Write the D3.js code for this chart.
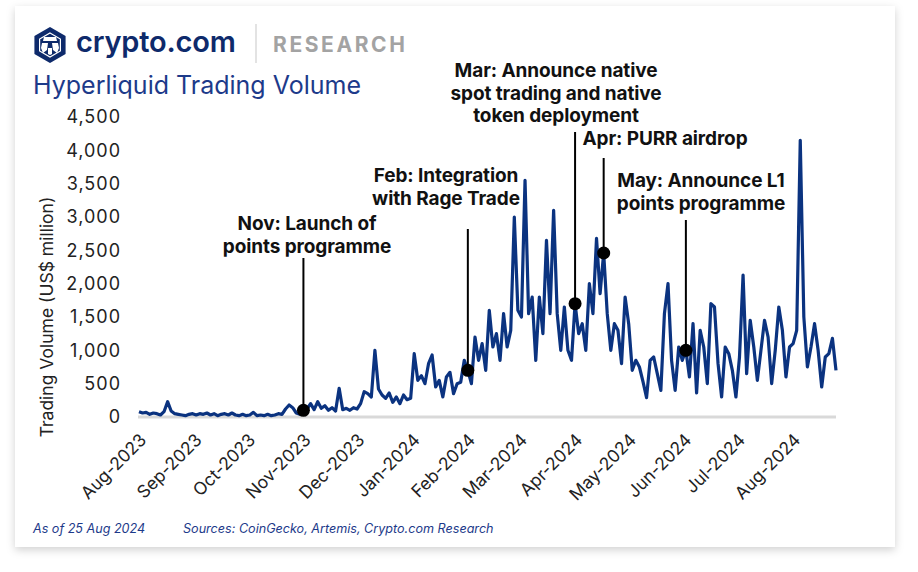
<!DOCTYPE html>
<html><head><meta charset="utf-8">
<script src="https://cdn.jsdelivr.net/npm/d3@7"></script>
<style>
html,body{margin:0;padding:0;background:#fff;}
svg{display:block;font-family:Inter,"Noto Sans",sans-serif;}
</style></head>
<body>
<svg id="c" width="918" height="572"></svg>
<script>
// ---- data ----
const startDate = "2023-08-01";
const stepDays = 2;
const volume = [
 80,60,70,40,60,50,30,80,230,90,50,40,30,20,40,50,30,50,40,60,
 30,50,20,40,50,30,60,30,20,40,20,30,70,20,30,20,40,20,30,50,
 40,120,180,140,60,40,100,120,200,110,230,130,170,100,140,90,430,110,130,100,
 140,120,200,380,350,300,1000,420,330,280,360,220,300,200,330,260,280,950,550,620,
 500,800,930,450,550,300,600,670,350,500,520,850,700,500,1200,850,1100,700,1600,1050,
 1250,850,1550,1050,1300,3000,1600,1500,3550,1550,1800,850,1800,1250,2650,1550,3100,1550,1000,1650,
 1000,850,1700,1250,1400,1000,2000,1550,2680,1850,2460,1550,1000,1400,1300,800,1800,1400,700,850,
 750,530,290,850,900,650,400,1550,2000,850,400,1050,850,1000,600,1400,360,1300,1050,500,
 1700,1650,800,300,1050,950,700,300,900,2130,650,1450,1050,550,1000,1450,1200,500,1000,1650,
 1300,600,1050,1100,1300,4150,1500,750,1050,1400,1000,450,900,950,1180,700
];
const yTicks = [0,500,1000,1500,2000,2500,3000,3500,4000,4500];
const monthTicks = ["2023-08-01","2023-09-01","2023-10-01","2023-11-01","2023-12-01","2024-01-01",
 "2024-02-01","2024-03-01","2024-04-01","2024-05-01","2024-06-01","2024-07-01","2024-08-01"];
const endDate = "2024-08-25";
const eventDates = ["2023-11-01","2024-02-01","2024-04-01","2024-04-17","2024-06-02"];
const eventLines = [
 ["Nov: Launch of","points programme"],
 ["Feb: Integration","with Rage Trade"],
 ["Mar: Announce native","spot trading and native","token deployment"],
 ["Apr: PURR airdrop"],
 ["May: Announce L1","points programme"]
];
// layout of annotations (text centre x, first baseline y, line top y)
const eventTextX = [307,446,556,665,701];
const eventTextY = [230,182,77,145,187];
const eventLineTop = [258,229,132,158,220];

// ---- build ----
const parse = d3.utcParse("%Y-%m-%d");
const t0 = parse(startDate);
const series = volume.map((v,i)=>({date:d3.utcDay.offset(t0,i*stepDays), v}));

const svg = d3.select("#c");
const defs = svg.append("defs");
const f = defs.append("filter").attr("id","sh").attr("x","-5%").attr("y","-5%").attr("width","110%").attr("height","115%");
f.append("feDropShadow").attr("dx",0).attr("dy",3).attr("stdDeviation",4).attr("flood-color","#000").attr("flood-opacity",0.18);
svg.append("rect").attr("x",15).attr("y",6).attr("width",880).attr("height",541).attr("fill","#fff").attr("filter","url(#sh)");

const x = d3.scaleUtc().domain([t0, parse(endDate)]).range([139,836]);
const y = d3.scaleLinear().domain([0,4500]).range([417,117]);

// header: logo
const navy = "#0e2a6b";
const lg = svg.append("g").attr("transform","translate(50,45)");
const hex = d3.range(6).map(k=>{const a=Math.PI/3*k - Math.PI/2; return [18*Math.cos(a),18*Math.sin(a)];});
lg.append("path").attr("d","M"+hex.join("L")+"Z").attr("fill",navy);
const hex2 = d3.range(6).map(k=>{const a=Math.PI/3*k - Math.PI/2; return [12*Math.cos(a),12*Math.sin(a)];});
lg.append("path").attr("d","M"+hex2.join("L")+"Z").attr("fill","none").attr("stroke","#fff").attr("stroke-width",1.2);
lg.append("path").attr("d","M-6,-8 L6,-8 L7,-4 L-7,-4 Z").attr("fill","#fff");
lg.append("path").attr("d","M-8,-2 L-2,-2 L-3,5 L-7,8 L-9,3 Z M8,-2 L2,-2 L3,5 L7,8 L9,3 Z M-2,3 L2,3 L2,9 L0,10 L-2,9 Z").attr("fill","#fff");
svg.append("text").attr("x",76).attr("y",52).attr("font-size",29).attr("font-weight",600).attr("fill",navy)
  .attr("letter-spacing","-0.2").text("crypto.com");
svg.append("line").attr("x1",256).attr("x2",256).attr("y1",24).attr("y2",63).attr("stroke","#d0d0d0").attr("stroke-width",1.2);
svg.append("text").attr("x",273).attr("y",52).attr("font-size",21).attr("font-weight",700).attr("fill","#a3a3a3")
  .attr("letter-spacing","2.6").text("RESEARCH");
svg.append("text").attr("x",33).attr("y",94).attr("font-size",25).attr("fill","#1d3a8a").text("Hyperliquid Trading Volume");

// baseline
svg.append("line").attr("x1",138).attr("x2",836).attr("y1",y(0)).attr("y2",y(0)).attr("stroke","#d9d9d9").attr("stroke-width",3);

// y axis
const ya = svg.append("g").attr("transform","translate(139,0)")
  .call(d3.axisLeft(y).tickValues(yTicks).tickFormat(d3.format(",")).tickSize(0).tickPadding(18));
ya.select(".domain").remove();
ya.selectAll("text").attr("font-size",18).attr("letter-spacing","1").attr("fill","#222").attr("font-family","Inter,sans-serif");
svg.append("text").attr("transform","translate(53,317) rotate(-90)").attr("text-anchor","middle")
  .attr("font-size",17.5).attr("fill","#222").text("Trading Volume (US$ million)");

// x axis
const xa = svg.append("g").attr("transform","translate(0,"+y(0)+")")
  .call(d3.axisBottom(x).tickValues(monthTicks.map(parse)).tickFormat(d3.utcFormat("%b-%Y")).tickSize(0).tickPadding(0));
xa.select(".domain").remove();
xa.selectAll("text").attr("font-size",17.5).attr("fill","#222").attr("font-family","Inter,sans-serif")
  .attr("text-anchor","end").attr("dy",0).attr("transform","translate(8,24) rotate(-45)");

// line
svg.append("path").datum(series)
  .attr("d", d3.line().x(d=>x(d.date)).y(d=>y(d.v)))
  .attr("fill","none").attr("stroke","#0b3380").attr("stroke-width",3.2).attr("stroke-linejoin","round");

// annotations
const bis = d3.bisector(d=>d.date).center;
eventDates.forEach((ds,k)=>{
  const pt = series[bis(series, parse(ds))];
  const px = x(pt.date), py = y(pt.v);
  svg.append("line").attr("x1",px).attr("x2",px).attr("y1",eventLineTop[k]).attr("y2",py)
    .attr("stroke","#000").attr("stroke-width",2);
  svg.append("circle").attr("cx",px).attr("cy",py).attr("r",6.5).attr("fill","#000");
  const t = svg.append("text").attr("text-anchor","middle").attr("font-size",19).attr("font-weight",700)
    .attr("fill","#111").attr("letter-spacing","-0.1");
  eventLines[k].forEach((s,j)=>{
    t.append("tspan").attr("x",eventTextX[k]).attr("y",eventTextY[k]+j*22.5).text(s);
  });
});

// footer
svg.append("text").attr("x",33).attr("y",533).attr("font-size",12.6).attr("font-style","italic").attr("fill","#1d3a8a").text("As of 25 Aug 2024");
svg.append("text").attr("x",183).attr("y",533).attr("font-size",12.6).attr("font-style","italic").attr("fill","#1d3a8a").text("Sources: CoinGecko, Artemis, Crypto.com Research");
</script>
</body></html>
